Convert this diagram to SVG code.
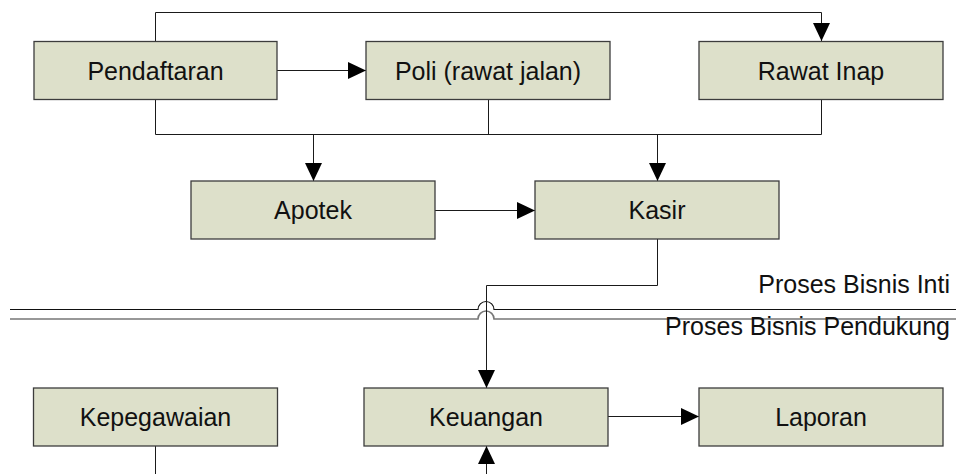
<svg xmlns="http://www.w3.org/2000/svg" width="956" height="474" viewBox="0 0 956 474">
  <style>
    .box rect { fill: #dde0ca; stroke: #3c3c3c; stroke-width: 1.3; }
    .box text, .lane { font-family: "Liberation Sans", Arial, sans-serif; font-size: 25px; fill: #111; }
    .box text { text-anchor: middle; }
    .lane { text-anchor: end; }
    .wire { fill: none; stroke: #1a1a1a; stroke-width: 1; }
    .arrow { marker-end: url(#head); }
  </style>
  <defs>
    <marker id="head" markerWidth="18" markerHeight="17" refX="18" refY="8.5" orient="auto" markerUnits="userSpaceOnUse">
      <path d="M0,0 L18,8.5 L0,17 Z" fill="#000"/>
    </marker>
  </defs>

  <rect width="956" height="474" fill="#fff"/>

  <!-- separator between core and support processes, jumping over the Kasir link -->
  <g id="separator">
    <path d="M10,309.5 H478 A8,8 0 0 1 494,309.5 H956" fill="none" stroke="#111" stroke-width="1.2"/>
    <path d="M10,319 H478 A8,8 0 0 1 494,319 H956" fill="none" stroke="#777" stroke-width="1.6"/>
    <text class="lane" x="950" y="293">Proses Bisnis Inti</text>
    <text class="lane" x="950" y="335">Proses Bisnis Pendukung</text>
  </g>

  <g id="connectors">
    <path class="wire arrow" d="M155.5,41 V12.5 H821.5 V41"/>
    <path class="wire arrow" d="M277,70.5 H366"/>
    <path class="wire" d="M155.5,99 V134.5 H821.5 V99 M488.5,99 V134.5"/>
    <path class="wire arrow" d="M313.5,134.5 V181"/>
    <path class="wire arrow" d="M657.5,134.5 V181"/>
    <path class="wire arrow" d="M435,210.5 H535"/>
    <path class="wire arrow" d="M657.5,239 V285.5 H486.5 V388"/>
    <path class="wire arrow" d="M608,416.5 H699"/>
    <path class="wire" d="M155.5,446 V474"/>
    <path class="wire arrow" d="M486.5,474 V446"/>
  </g>

  <g id="pendaftaran" class="box">
    <rect x="34" y="41.5" width="243" height="58"/>
    <text x="155.5" y="79.5">Pendaftaran</text>
  </g>
  <g id="poli" class="box">
    <rect x="366" y="41.5" width="244" height="58"/>
    <text x="488" y="79.5">Poli (rawat jalan)</text>
  </g>
  <g id="rawat-inap" class="box">
    <rect x="699" y="41.5" width="244" height="58"/>
    <text x="821" y="79.5">Rawat Inap</text>
  </g>
  <g id="apotek" class="box">
    <rect x="191" y="181" width="244" height="58"/>
    <text x="313" y="219">Apotek</text>
  </g>
  <g id="kasir" class="box">
    <rect x="535" y="181" width="244" height="58"/>
    <text x="657" y="219">Kasir</text>
  </g>
  <g id="kepegawaian" class="box">
    <rect x="33.5" y="388" width="244" height="58"/>
    <text x="155.5" y="426">Kepegawaian</text>
  </g>
  <g id="keuangan" class="box">
    <rect x="364" y="388" width="244" height="58"/>
    <text x="486" y="426">Keuangan</text>
  </g>
  <g id="laporan" class="box">
    <rect x="699" y="388" width="244" height="58"/>
    <text x="821" y="426">Laporan</text>
  </g>
</svg>
